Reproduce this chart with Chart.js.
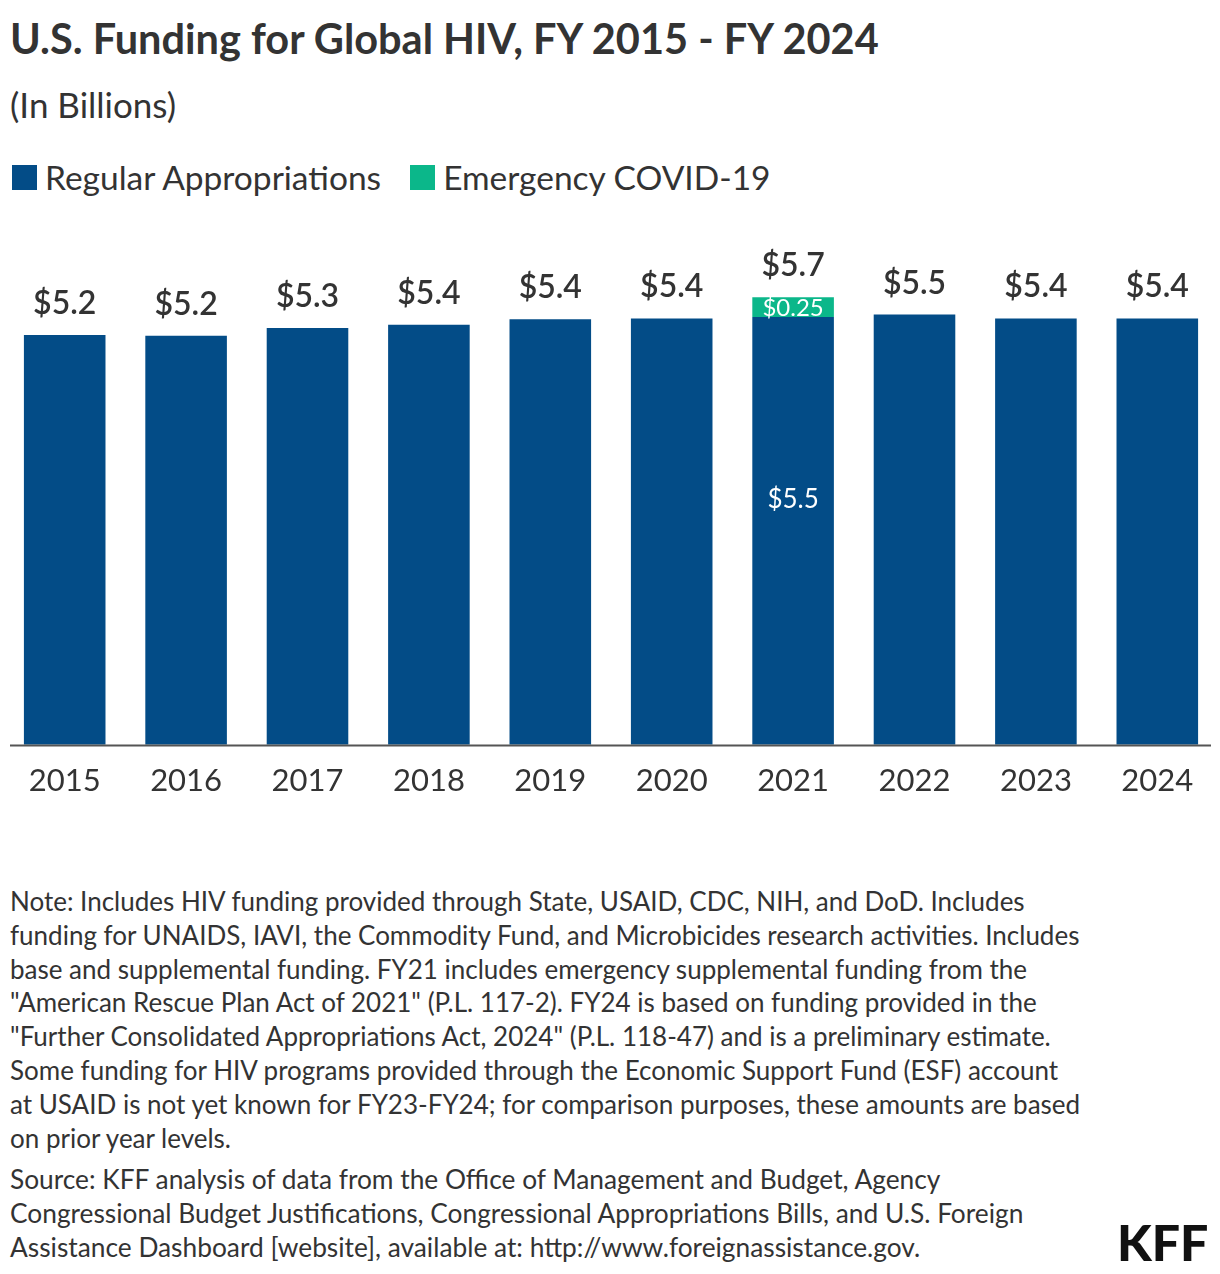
<!DOCTYPE html>
<html>
<head>
<meta charset="utf-8">
<script src="https://cdn.jsdelivr.net/npm/chart.js@4.4.1/dist/chart.umd.min.js"></script>
<style>
  html, body { margin:0; padding:0; background:#fff; }
  body { width:1220px; height:1274px; position:relative; overflow:hidden; font-family: Lato, "Noto Sans", sans-serif; color:#333; }
  .abs { position:absolute; white-space:nowrap; }
  #title { left:10px; top:14px; font-size:41.5px; line-height:48px; font-weight:700; color:#333; }
  #subtitle { left:10px; top:84px; font-size:35px; line-height:40px; color:#333; }
  #legend { left:12px; top:157px; height:40px; display:flex; align-items:center; font-size:33.5px; line-height:40px; color:#333; }
  .sw { display:inline-block; width:25px; height:25px; margin-right:8px; }
  .li { display:flex; align-items:center; margin-right:29px; }
  #notes { left:10px; top:885px; font-size:26px; line-height:33.8px; color:#333; }
  #source { left:10px; top:1163px; font-size:26.3px; line-height:33.8px; color:#333; }
  #kff { left:1117px; top:1215px; font-size:50px; line-height:54px; font-weight:900; color:#111; letter-spacing:0px; }
  #chartwrap { position:absolute; left:0; top:230px; width:1220px; height:600px; }
</style>
</head>
<body>
<div id="title" class="abs">U.S. Funding for Global HIV, FY 2015 - FY 2024</div>
<div id="subtitle" class="abs">(In Billions)</div>
<div id="legend" class="abs"></div>
<div id="chartwrap"><canvas id="c" width="1220" height="600"></canvas></div>
<div id="notes" class="abs">Note: Includes HIV funding provided through State, USAID, CDC, NIH, and DoD. Includes<br>funding for UNAIDS, IAVI, the Commodity Fund, and Microbicides research activities. Includes<br>base and supplemental funding. FY21 includes emergency supplemental funding from the<br>"American Rescue Plan Act of 2021" (P.L. 117-2). FY24 is based on funding provided in the<br>"Further Consolidated Appropriations Act, 2024" (P.L. 118-47) and is a preliminary estimate.<br>Some funding for HIV programs provided through the Economic Support Fund (ESF) account<br>at USAID is not yet known for FY23-FY24; for comparison purposes, these amounts are based<br>on prior year levels.</div>
<div id="source" class="abs">Source: KFF analysis of data from the Office of Management and Budget, Agency<br>Congressional Budget Justifications, Congressional Appropriations Bills, and U.S. Foreign<br>Assistance Dashboard [website], available at: http://www.foreignassistance.gov.</div>
<div id="kff" class="abs">KFF</div>
<script>
const years = ["2015","2016","2017","2018","2019","2020","2021","2022","2023","2024"];
const regular = [5.23, 5.22, 5.32, 5.36, 5.43, 5.44, 5.46, 5.49, 5.44, 5.44];
const emergency = [0, 0, 0, 0, 0, 0, 0.25, 0, 0, 0];
const seriesNames = ["Regular Appropriations", "Emergency COVID-19"];
const seriesColors = ["#034c87", "#0bb78a"];

// HTML legend
const lg = document.getElementById('legend');
seriesNames.forEach((n, i) => {
  const d = document.createElement('div'); d.className = 'li';
  d.innerHTML = '<span class="sw" style="background:' + seriesColors[i] + '"></span>' + n;
  lg.appendChild(d);
});

const labelPlugin = {
  id: 'labels',
  afterDatasetsDraw(chart) {
    const ctx = chart.ctx;
    const x = chart.scales.x, y = chart.scales.y;
    const area = chart.chartArea;
    ctx.save();
    // baseline
    ctx.strokeStyle = '#555';
    ctx.lineWidth = 2;
    const y0 = Math.round(y.getPixelForValue(0)) + 0.5;
    ctx.beginPath(); ctx.moveTo(10, y0); ctx.lineTo(1211, y0); ctx.stroke();

    ctx.textAlign = 'center';
    years.forEach((yr, i) => {
      const total = regular[i] + emergency[i];
      const px = x.getPixelForValue(i);
      const topPx = y.getPixelForValue(total);
      ctx.fillStyle = '#333';
      ctx.font = '600 32px Lato';
      ctx.textBaseline = 'alphabetic';
      ctx.fillText('$' + total.toFixed(1), px, topPx - 21);
      if (emergency[i] > 0) {
        const a = y.getPixelForValue(regular[i]);
        ctx.fillStyle = '#fff';
        ctx.font = '24px Lato';
        ctx.textBaseline = 'middle';
        ctx.fillText('$' + emergency[i].toFixed(2), px, (a + topPx) / 2 + 1);
        ctx.font = '26px Lato';
        ctx.fillText('$' + regular[i].toFixed(1), px, (area.top + area.bottom) / 2);
      }
    });
    ctx.restore();
  }
};

new Chart(document.getElementById('c'), {
  type: 'bar',
  data: {
    labels: years,
    datasets: [
      { label: seriesNames[0], data: regular, backgroundColor: seriesColors[0], categoryPercentage: 1, barPercentage: 0.672 },
      { label: seriesNames[1], data: emergency, backgroundColor: seriesColors[1], categoryPercentage: 1, barPercentage: 0.672 }
    ]
  },
  options: {
    responsive: false,
    devicePixelRatio: 1,
    animation: false,
    layout: { padding: { top: 25, left: 4, right: 2, bottom: 12 } },
    plugins: { legend: { display: false }, tooltip: { enabled: false } },
    scales: {
      x: {
        stacked: true,
        grid: { display: false, drawTicks: false },
        border: { display: false },
        ticks: { color: '#333', font: { family: 'Lato', size: 31 }, padding: 18 }
      },
      y: {
        stacked: true, display: false, min: 0, max: 6.25,
        grid: { display: false }
      }
    }
  },
  plugins: [labelPlugin]
});
</script>
</body>
</html>
